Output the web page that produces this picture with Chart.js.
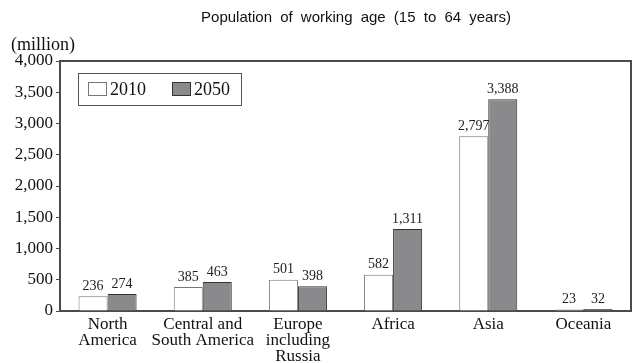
<!DOCTYPE html>
<html>
<head>
<meta charset="utf-8">
<script src="https://cdn.jsdelivr.net/npm/chart.js@4"></script>
<style>
  html, body { margin: 0; padding: 0; background: #fff; }
  #wrap { width: 634px; height: 363px; }
</style>
</head>
<body>
<div id="wrap"><canvas id="chart" width="634" height="363"></canvas></div>
<script>
const regions = [
    ['North', 'America'],
    ['Central and', 'South America'],
    ['Europe', 'including', 'Russia'],
    ['Africa'],
    ['Asia'],
    ['Oceania'],
];
const seriesNames = ['2010', '2050'];
const values2010 = [236, 385, 501, 582, 2797, 23];
const values2050 = [274, 463, 398, 1311, 3388, 32];
const yTicks = [0, 500, 1000, 1500, 2000, 2500, 3000, 3500, 4000];

const SERIF = '"Liberation Serif", "DejaVu Serif", serif';
const SANS = '"Liberation Sans", Arial, sans-serif';
const axisColor = '#4a4a4a';

// title, unit label, frame, legend box and value labels
const decorations = {
    id: 'decorations',
    afterDatasetsDraw(chart) {
        const ctx = chart.ctx;
        const area = chart.chartArea;
        ctx.save();

        // frame top + right
        ctx.strokeStyle = axisColor;
        ctx.lineWidth = 2;
        ctx.beginPath();
        ctx.moveTo(area.left, area.top);
        ctx.lineTo(area.right, area.top);
        ctx.lineTo(area.right, area.bottom);
        ctx.stroke();

        // value labels
        ctx.fillStyle = '#222';
        ctx.font = '14px ' + SERIF;
        ctx.textAlign = 'center';
        ctx.textBaseline = 'bottom';
        chart.data.datasets.forEach((ds, i) => {
            chart.getDatasetMeta(i).data.forEach((bar, j) => {
                ctx.fillText(ds.data[j].toLocaleString('en-US'), bar.x, bar.y - 3);
            });
        });

        // title
        ctx.font = '15px ' + SANS;
        ctx.fillStyle = '#111';
        ctx.textBaseline = 'middle';
        if ('wordSpacing' in ctx) ctx.wordSpacing = '4px';
        ctx.fillText('Population of working age (15 to 64 years)', 356, 18);
        if ('wordSpacing' in ctx) ctx.wordSpacing = '0px';

        // unit
        ctx.font = '18px ' + SERIF;
        ctx.textAlign = 'left';
        ctx.fillText('(million)', 11, 45);

        // legend box
        ctx.lineWidth = 1;
        ctx.strokeStyle = '#555';
        ctx.strokeRect(78.5, 73.5, 163, 32);
        const entries = [
            { x: 88, ds: chart.data.datasets[0] },
            { x: 172, ds: chart.data.datasets[1] },
        ];
        entries.forEach(e => {
            ctx.fillStyle = e.ds.backgroundColor;
            ctx.fillRect(e.x + 0.5, 82.5, 18, 13);
            ctx.strokeStyle = e.ds.borderColor;
            ctx.strokeRect(e.x + 0.5, 82.5, 18, 13);
            ctx.fillStyle = '#111';
            ctx.font = '18px ' + SERIF;
            ctx.fillText(e.ds.label, e.x + 22, 90);
        });

        ctx.restore();
    }
};

const chart = new Chart(document.getElementById('chart'), {
    type: 'bar',
    data: {
        labels: regions,
        datasets: [
            {
                label: seriesNames[0],
                data: values2010,
                backgroundColor: '#ffffff',
                borderColor: '#777777',
                borderWidth: 1,
            },
            {
                label: seriesNames[1],
                data: values2050,
                backgroundColor: '#8a8a8c',
                borderColor: '#333333',
                borderWidth: 1,
            },
        ],
    },
    options: {
        responsive: false,
        animation: false,
        events: [],
        layout: { padding: { top: 61, right: 3, left: 0, bottom: 0 } },
        datasets: {
            bar: { categoryPercentage: 0.61, barPercentage: 1.0 }
        },
        plugins: {
            legend: { display: false },
            title: { display: false },
            tooltip: { enabled: false },
        },
        scales: {
            x: {
                grid: { display: false, drawTicks: false },
                border: { display: true, color: axisColor, width: 2 },
                ticks: {
                    color: '#111',
                    font: { family: SERIF, size: 17, lineHeight: 0.95 },
                    padding: 5,
                    maxRotation: 0,
                    autoSkip: false,
                },
                afterFit(scale) { scale.height = 52; },
            },
            y: {
                min: 0,
                max: 4000,
                afterBuildTicks(scale) {
                    scale.ticks = yTicks.map(v => ({ value: v }));
                },
                grid: {
                    drawOnChartArea: false,
                    drawTicks: true,
                    tickLength: 4,
                    color: axisColor,
                },
                border: { display: true, color: axisColor, width: 2 },
                ticks: {
                    color: '#111',
                    font: { family: SERIF, size: 17 },
                    padding: 3,
                    callback: v => v.toLocaleString('en-US'),
                },
                afterFit(scale) { scale.width = 60; },
            },
        },
    },
    plugins: [decorations],
});
</script>
</body>
</html>
